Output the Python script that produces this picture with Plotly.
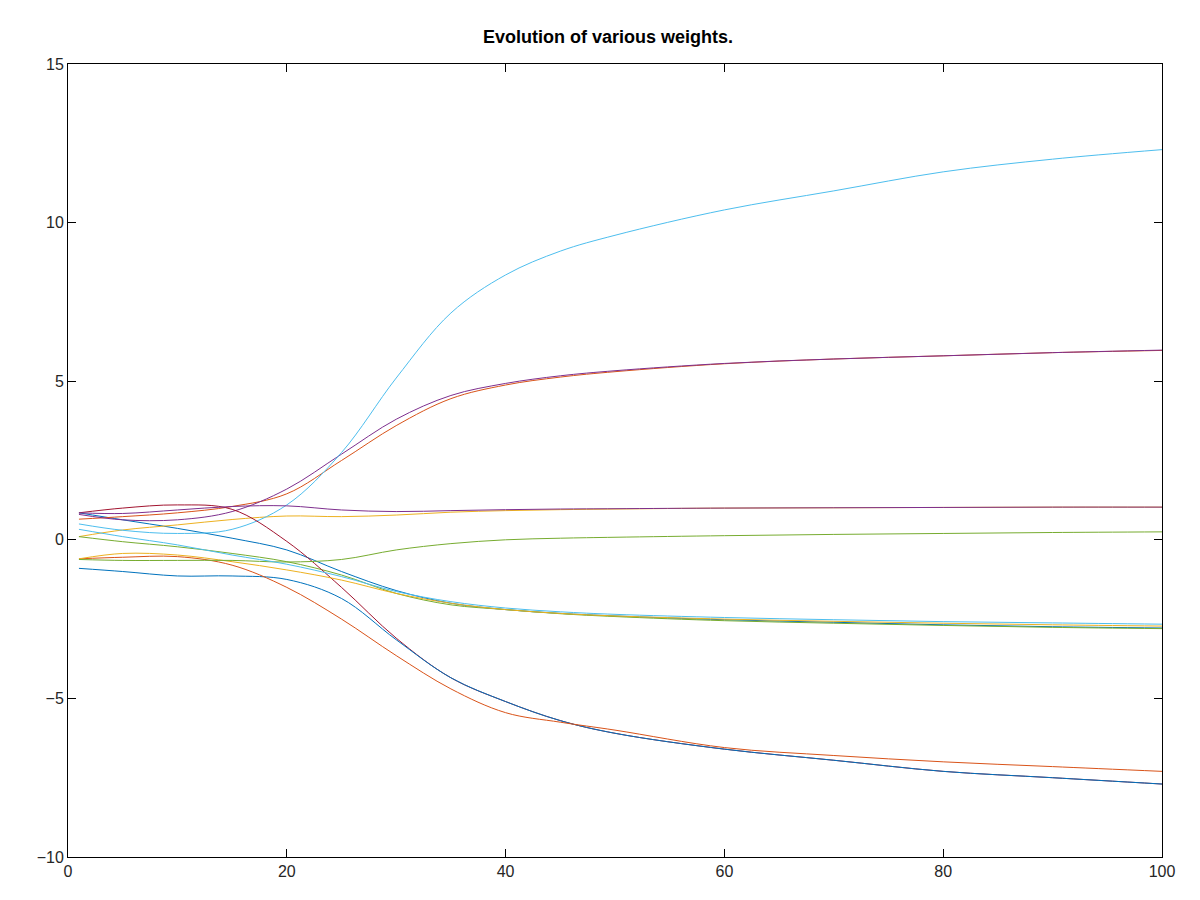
import plotly.graph_objects as go

steps = [1, 5, 10, 15, 20, 25, 30, 35, 40, 45, 50, 60, 70, 80, 90, 100]

blue_top = [0.85, 0.63, 0.36, 0.05, -0.32, -1.0, -1.6, -2.0, -2.2, -2.32, -2.4, -2.52, -2.6, -2.68, -2.74, -2.78]
red_top = [0.65, 0.73, 0.85, 1.05, 1.45, 2.5, 3.6, 4.45, 4.88, 5.13, 5.3, 5.55, 5.7, 5.8, 5.9, 5.97]
yellow_top = [0.1, 0.31, 0.47, 0.64, 0.75, 0.73, 0.78, 0.87, 0.92, 0.95, 0.97, 1.0, 1.01, 1.02, 1.03, 1.03]
purple_rise = [0.8, 0.63, 0.63, 0.89, 1.6, 2.7, 3.8, 4.55, 4.93, 5.17, 5.33, 5.56, 5.7, 5.8, 5.9, 5.98]
green_top = [0.1, -0.06, -0.22, -0.43, -0.69, -1.11, -1.69, -2.05, -2.2, -2.33, -2.42, -2.55, -2.63, -2.7, -2.76, -2.8]
cyan_top = [0.5, 0.3, 0.2, 0.33, 1.1, 2.75, 5.1, 7.15, 8.35, 9.1, 9.6, 10.4, 11.0, 11.6, 12.0, 12.3]
darkred = [0.85, 1.0, 1.1, 0.96, -0.05, -1.5, -3.1, -4.35, -5.1, -5.7, -6.1, -6.6, -6.95, -7.3, -7.5, -7.7]
blue_low = [-0.9, -1.0, -1.14, -1.14, -1.25, -1.85, -3.15, -4.35, -5.1, -5.7, -6.1, -6.6, -6.95, -7.3, -7.5, -7.7]
red_low = [-0.6, -0.55, -0.53, -0.8, -1.5, -2.5, -3.65, -4.7, -5.45, -5.75, -6.0, -6.55, -6.8, -7.0, -7.15, -7.3]
yellow_low = [-0.6, -0.43, -0.48, -0.69, -0.95, -1.27, -1.69, -2.0, -2.2, -2.32, -2.4, -2.5, -2.57, -2.63, -2.68, -2.72]
purple_flat = [0.85, 0.83, 0.94, 1.05, 1.07, 0.94, 0.89, 0.92, 0.95, 0.97, 0.98, 1.0, 1.01, 1.02, 1.03, 1.03]
green_low = [-0.62, -0.65, -0.65, -0.65, -0.7, -0.62, -0.32, -0.12, 0.0, 0.05, 0.08, 0.13, 0.17, 0.2, 0.23, 0.25]
cyan_low = [0.33, 0.1, -0.16, -0.48, -0.77, -1.16, -1.63, -1.95, -2.15, -2.27, -2.35, -2.45, -2.52, -2.58, -2.62, -2.66]

series = [
    (blue_top, "#0072BD"), (red_top, "#D95319"), (yellow_top, "#EDB120"),
    (purple_rise, "#7E2F8E"), (green_top, "#77AC30"), (cyan_top, "#4DBEEE"),
    (darkred, "#A2142F"), (blue_low, "#0072BD"), (red_low, "#D95319"),
    (yellow_low, "#EDB120"), (purple_flat, "#7E2F8E"), (green_low, "#77AC30"),
    (cyan_low, "#4DBEEE"),
]

fig = go.Figure()
for vals, col in series:
    fig.add_trace(go.Scatter(x=steps, y=vals, mode="lines",
                             line=dict(color=col, width=1, shape="spline", smoothing=1.0),
                             showlegend=False))

axis = dict(showgrid=False, zeroline=False, showline=True, linecolor="black", linewidth=1,
            mirror="ticks", ticks="inside", ticklen=8, tickcolor="black",
            tickfont=dict(size=16, color="#262626"))
fig.update_layout(
    width=1200, height=900, paper_bgcolor="white", plot_bgcolor="white",
    font=dict(family="Liberation Sans, Arial, sans-serif"),
    title=dict(text="<b>Evolution of various weights.</b>", x=0.5, xanchor="center",
               y=0.975, font=dict(size=18, color="black")),
    margin=dict(l=60, r=46, t=56, b=51),
    xaxis=dict(range=[0, 100], dtick=20, **axis),
    yaxis=dict(range=[-10, 15], dtick=5, **axis),
)
fig.write_html("out.html")
